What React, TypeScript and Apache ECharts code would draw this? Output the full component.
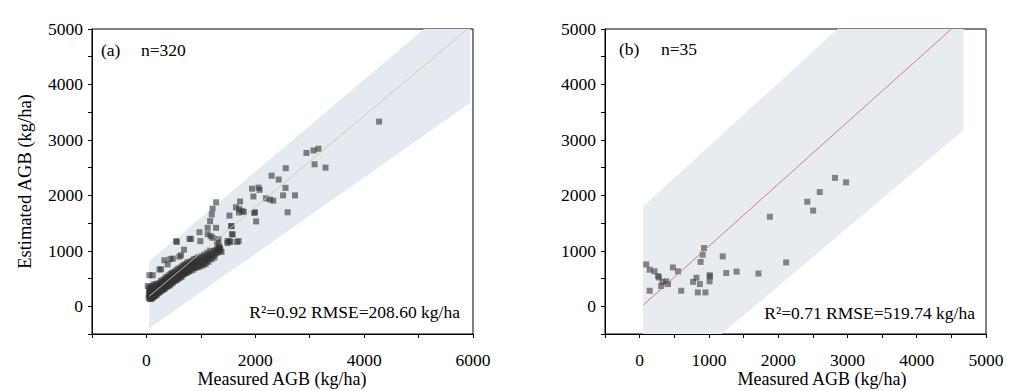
import React, { useEffect, useRef } from "react";
import * as echarts from "echarts";

const FONT = '"Liberation Serif", "Times New Roman", serif';

// Panel (a): measured vs estimated AGB (kg/ha), calibration
const pointsA: number[][] = [
  [40,150],[45,210],[50,280],[55,330],[60,180],[62,240],[65,130],[70,300],[72,200],[75,160],[78,260],[80,350],[82,220],[85,140],[88,190],[90,310],[92,250],[95,170],[98,280],[100,210],
  [102,140],[105,330],[108,240],[110,190],[112,280],[115,160],[118,360],[120,230],[122,300],[125,200],[128,170],[130,260],[132,390],[135,220],[138,310],[140,180],[142,250],[145,340],[148,200],[150,280],
  [152,230],[155,190],[158,300],[160,260],[162,350],[165,210],[168,290],[170,240],[172,400],[175,270],[178,220],[180,320],[182,250],[185,200],[188,300],[190,270],[195,360],[198,230],[200,290],
  [205,250],[210,320],[212,410],[215,280],[220,240],[225,340],[228,300],[230,270],[235,380],[240,310],[242,260],[245,350],[250,290],[255,420],[258,330],[260,300],[265,270],[268,370],[270,460],[275,330],
  [278,300],[280,400],[285,350],[290,310],[292,440],[295,380],[300,340],[305,300],[308,420],[310,360],[315,480],[318,330],[320,390],[325,350],[330,440],[332,310],[335,400],[340,370],[345,500],[348,340],
  [350,420],[355,380],[360,460],[362,350],[365,400],[370,530],[372,380],[375,430],[380,360],[385,470],[388,410],[390,380],[395,520],[398,440],[400,400],[405,370],[410,470],[412,430],[415,560],[420,400],
  [425,480],[428,440],[430,380],[435,520],[440,460],[445,420],[448,580],[450,490],[455,440],[460,410],[465,530],[468,470],[470,600],[475,450],[480,510],[485,430],[490,560],[495,480],[500,450],
  [505,620],[510,520],[515,470],[520,550],[525,500],[530,460],[535,580],[540,530],[545,650],[550,490],[555,560],[560,520],[565,480],[570,610],[575,550],[580,500],[585,680],[590,580],[595,530],[600,620],
  [605,560],[610,510],[615,650],[620,590],[625,540],[630,700],[635,600],[640,560],[645,530],[650,640],[655,600],[660,720],[665,570],[670,660],[675,620],[680,580],[685,740],[690,650],[695,610],[700,590],
  [705,690],[710,640],[715,760],[720,610],[725,680],[730,640],[735,600],[740,720],[745,670],[750,790],[755,640],[760,700],[765,660],[770,620],[775,740],[780,690],[785,650],[790,800],[795,720],[800,680],
  [810,640],[815,760],[820,710],[830,690],[835,820],[840,740],[850,700],[855,780],[860,660],[870,760],[875,850],[880,720],[890,690],[895,800],[900,750],
  [910,860],[920,720],[930,790],[940,700],[950,880],[960,770],[970,740],[980,830],[990,720],[1000,900],[1010,800],[1020,760],[1030,870],[1040,740],[1050,820],[1060,930],[1070,790],[1080,860],[1090,760],[1100,900],
  [1110,820],[1120,960],[1130,870],[1140,800],[1150,920],[1160,860],[1170,1000],[1180,900],[1200,850],[1210,950],[1220,910],[1240,1000],[1250,880],[1260,940],[1280,1010],[1290,960],[1300,1040],[1310,1000],[1320,980],[1330,1020],
  [1340,1060],[1300,1150],[1330,1100],[1350,1050],[1360,1010],[1380,980],
  [25,365],[55,560],[115,560],[240,665],[270,665],[330,830],[390,755],[440,850],[485,860],[545,1175],[560,1160],[605,895],[635,920],[690,1020],[790,1215],[820,1215],[975,1335],[990,1175],
  [1125,1415],[1280,1415],[1170,1535],[1200,1655],[1215,1760],[1280,1875],[1125,1300],[1180,1265],[1215,1235],[1325,1210],
  [1490,1175],[1490,1140],[1525,1175],[1545,1160],[1585,1295],[1570,1300],[1555,1445],[1565,1445],[1525,1635],[1645,1785],[1665,1160],[1695,1175],[1700,1690],[1705,1755],[1720,1890],[1760,1720],[1790,1700],
  [1940,2120],[1965,1980],[1980,1685],[1995,1695],[2015,1530],[2060,2140],[2080,2100],[2195,1945],[2270,1925],[2300,2355],[2330,1905],[2430,2285],[2510,2000],[2555,2135],[2560,2490],[2595,1695],[2730,2000],
  [2940,2765],[3070,2810],[3090,2560],[3160,2840],[3290,2500],[4275,3330]
];

// Panel (b): validation
const pointsB: number[][] = [
  [95,755],[145,280],[145,660],[215,630],[265,545],[280,520],[310,365],[330,440],[385,450],[410,400],[480,700],[555,630],[600,280],
  [770,440],[820,515],[840,250],[870,400],[880,800],[910,930],[930,1050],[950,250],[1010,560],[1015,540],[1010,450],
  [1200,900],[1250,600],[1400,625],[1715,590],[1880,1615],[2115,790],[2420,1885],[2505,1725],[2600,2060],[2820,2315],[2980,2235]
];

// Shaded bands (polygon vertices, data units)
const bandA: number[][] = [[50,-400],[50,810],[5100,5000],[5950,5000],[5950,3670]];
const bandB: number[][] = [[50,-500],[50,1800],[2857,5000],[4675,5000],[4675,3180],[1183,-500]];

// Fitted lines
const lineA: number[][] = [[50,180],[5900,5000]];
const lineB: number[][] = [[50,20],[4500,5000]];

const xName = "Measured AGB (kg/ha)";
const yName = "Estimated AGB (kg/ha)";

function xAxis(gridIndex: number, min: number, max: number, interval: number, step: number) {
  return {
    type: "value", gridIndex, min, max, interval,
    splitLine: { show: false },
    axisLine: { show: true, onZero: false, lineStyle: { color: "#000", width: 1 } },
    axisTick: { show: true, inside: false, length: 4, lineStyle: { color: "#000" } },
    axisLabel: {
      color: "#000", fontSize: 17.5, fontFamily: FONT, margin: 17,
      formatter: (v: number) => (v >= 0 && Math.round(v) % step === 0 ? String(Math.round(v)) : ""),
    },
  };
}

function yAxis(gridIndex: number, showName: boolean) {
  return {
    type: "value", gridIndex, min: -500, max: 5000, interval: 500,
    name: showName ? yName : "", nameLocation: "middle", nameGap: 58,
    nameTextStyle: { color: "#000", fontSize: 18.5, fontFamily: FONT },
    splitLine: { show: false },
    axisLine: { show: true, onZero: false, lineStyle: { color: "#000", width: 1 } },
    axisTick: { show: true, inside: false, length: 4, lineStyle: { color: "#000" } },
    axisLabel: {
      color: "#000", fontSize: 17.5, fontFamily: FONT, margin: 9,
      formatter: (v: number) => (v >= 0 && Math.round(v) % 1000 === 0 ? String(Math.round(v)) : ""),
    },
  };
}

function band(idx: number, pts: number[][], fill: string) {
  return {
    type: "custom", xAxisIndex: idx, yAxisIndex: idx, z: 1, silent: true, clip: true,
    data: [[0, 0]],
    renderItem: (_p: any, api: any) => ({
      type: "polygon",
      shape: { points: pts.map((p) => api.coord(p)) },
      style: { fill },
    }),
  };
}

export default function App() {
  const ref = useRef<HTMLDivElement>(null);
  useEffect(() => {
    if (!ref.current) return;
    const chart = echarts.init(ref.current, undefined, { renderer: "svg" });
    const textStyle = { fontFamily: FONT, fontSize: 17.5, fill: "#000" };
    const nameStyle = { fontFamily: FONT, fontSize: 18, fill: "#000", align: "center", verticalAlign: "middle" };
    chart.setOption({
      animation: false,
      backgroundColor: "#fff",
      grid: [
        { left: 92, top: 29, width: 381, height: 305, show: true, borderColor: "#000", borderWidth: 1, backgroundColor: "transparent", containLabel: false, outerBoundsMode: "none" },
        { left: 605, top: 29, width: 381, height: 305, show: true, borderColor: "#000", borderWidth: 1, backgroundColor: "transparent", containLabel: false, outerBoundsMode: "none" },
      ],
      xAxis: [xAxis(0, -1000, 6000, 1000, 2000), xAxis(1, -500, 5000, 500, 1000)],
      yAxis: [yAxis(0, true), yAxis(1, false)],
      series: [
        band(0, bandA, "#e4eaef"),
        band(1, bandB, "#e8ebef"),
        {
          type: "scatter", xAxisIndex: 0, yAxisIndex: 0, z: 3, symbol: "rect", symbolSize: 6,
          itemStyle: { color: "#333", opacity: 0.6 }, data: pointsA,
        },
        {
          type: "scatter", xAxisIndex: 1, yAxisIndex: 1, z: 3, symbol: "rect", symbolSize: 6,
          itemStyle: { color: "#444", opacity: 0.62 }, data: pointsB,
        },
        {
          type: "line", xAxisIndex: 0, yAxisIndex: 0, z: 4, symbol: "none", silent: true,
          lineStyle: { color: "#d8c6a4", width: 0.9 }, data: lineA,
        },
        {
          type: "line", xAxisIndex: 1, yAxisIndex: 1, z: 4, symbol: "none", silent: true,
          lineStyle: { color: "#cf6f7c", width: 0.9 }, data: lineB,
        },
      ],
      graphic: [
        { type: "text", x: 101, y: 50, style: { ...textStyle, text: "(a)", verticalAlign: "middle" } },
        { type: "text", x: 141, y: 50, style: { ...textStyle, text: "n=320", verticalAlign: "middle" } },
        { type: "text", x: 460, y: 312, style: { ...textStyle, text: "R²=0.92 RMSE=208.60 kg/ha", align: "right", verticalAlign: "middle" } },
        { type: "text", x: 619, y: 49, style: { ...textStyle, text: "(b)", verticalAlign: "middle" } },
        { type: "text", x: 661, y: 49, style: { ...textStyle, text: "n=35", verticalAlign: "middle" } },
        { type: "text", x: 975, y: 313, style: { ...textStyle, text: "R²=0.71 RMSE=519.74 kg/ha", align: "right", verticalAlign: "middle" } },
        { type: "text", x: 282, y: 379, style: { ...nameStyle, text: xName } },
        { type: "text", x: 822, y: 379, style: { ...nameStyle, text: xName } },
      ],
    });
    return () => chart.dispose();
  }, []);
  return (
    <div
      ref={ref}
      style={{ position: "fixed", left: 0, top: 0, width: 1024, height: 391, background: "#fff" }}
    />
  );
}
